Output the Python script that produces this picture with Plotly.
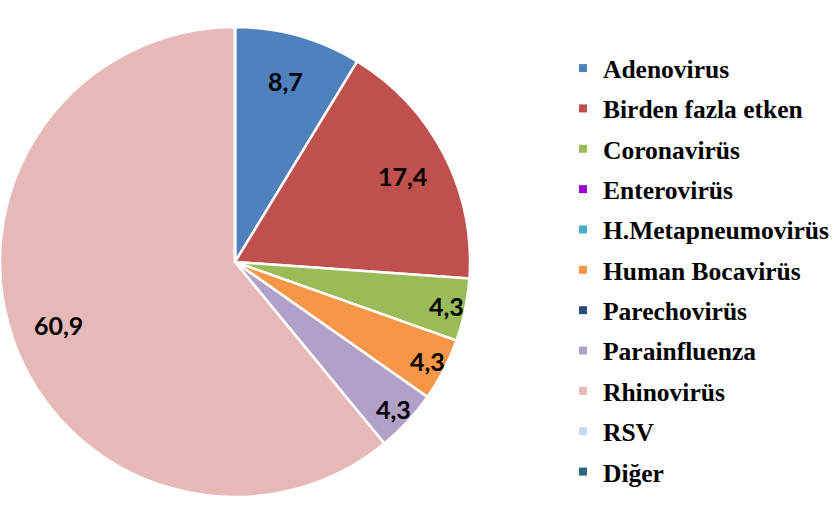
import math
import plotly.graph_objects as go

categories = ["Adenovirus", "Birden fazla etken", "Coronavirüs", "Enterovirüs",
              "H.Metapneumovirüs", "Human Bocavirüs", "Parechovirüs",
              "Parainfluenza", "Rhinovirüs", "RSV", "Diğer"]
values = [8.7, 17.4, 4.3, 0, 0, 4.3, 0, 4.3, 60.9, 0, 0]
colors = ["#4F81BD", "#C0504D", "#9BBB59", "#9900CC", "#4BACC6", "#F79646",
          "#2C4D75", "#B1A0C7", "#E6B9B8", "#C6D9F1", "#276A7C"]

labels_text = [f"{v:.1f}".replace(".", ",") for v in values]

PIE_X = [0, 470 / 833]
PIE_Y = [0, 1]

fig = go.Figure()
fig.add_trace(go.Pie(
    labels=categories, values=values,
    textinfo="none",
    sort=False, direction="clockwise", rotation=0,
    marker=dict(colors=colors, line=dict(color="white", width=2.5)),
    domain=dict(x=PIE_X, y=PIE_Y),
    showlegend=False, hoverinfo="label+value",
))

for name, col in zip(categories, colors):
    fig.add_trace(go.Scatter(
        x=[None], y=[None], mode="markers", name=name,
        marker=dict(symbol="square", size=8, color=col),
        legendgroup=name, showlegend=True,
    ))

# data labels placed at each slice's mid-angle (computed from values)
total = sum(values)
cum = 0.0
annotations = []
for v, t in zip(values, labels_text):
    if v > 0:
        theta = math.radians((cum + v / 2) / total * 360)
        frac = 0.8 if v > 5 else 0.92
        annotations.append(dict(
            x=frac * math.sin(theta), y=frac * math.cos(theta),
            xref="x", yref="y", text=t, showarrow=False,
            font=dict(family="Lato", size=25, color="black", weight="bold"),
        ))
    cum += v

fig.update_layout(
    width=833, height=524,
    margin=dict(l=0, r=0, t=0, b=0, autoexpand=False),
    paper_bgcolor="white", plot_bgcolor="rgba(0,0,0,0)",
    xaxis=dict(visible=False, domain=PIE_X, range=[-1, 1], fixedrange=True),
    yaxis=dict(visible=False, domain=PIE_Y, range=[-1, 1], scaleanchor="x",
               scaleratio=1, fixedrange=True),
    annotations=annotations,
    legend=dict(
        x=563 / 833, y=1 - 45 / 524, xanchor="left", yanchor="top",
        font=dict(family="Liberation Serif, Times New Roman, serif", size=25.5,
                  color="black", weight="bold"),
        tracegroupgap=4.2, itemwidth=30, bgcolor="rgba(0,0,0,0)",
    ),
)

fig.write_html("out.html", config={"displayModeBar": False},
               post_script="document.body.style.margin='0';")
